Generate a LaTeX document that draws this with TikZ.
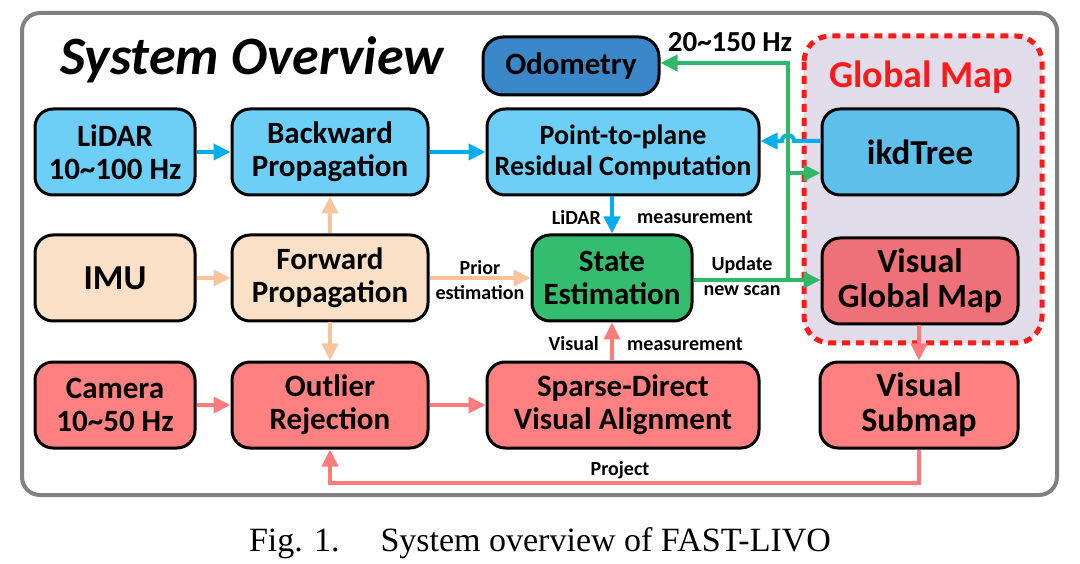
\documentclass[tikz,border=0pt]{standalone}
\usepackage{fontspec}
\setmainfont{Carlito}
\newfontfamily\capfont{Liberation Serif}
\usetikzlibrary{arrows.meta}
\definecolor{lblue}{HTML}{6DCFF6}
\definecolor{ikdblue}{HTML}{5DBFEA}
\definecolor{odoblue}{HTML}{3A88C9}
\definecolor{peach}{HTML}{FBE0C8}
\definecolor{sgreen}{HTML}{35BD6F}
\definecolor{pink}{HTML}{FF8080}
\definecolor{vgmred}{HTML}{EE7078}
\definecolor{lav}{HTML}{E1DCEA}
\definecolor{ablue}{HTML}{00AEEF}
\definecolor{apeach}{HTML}{F8C49C}
\definecolor{agreen}{HTML}{2EB868}
\definecolor{ared}{HTML}{FF7C7C}
\definecolor{framegray}{HTML}{808080}
\definecolor{gmred}{HTML}{FF1A1A}
\tikzset{
  box/.style={draw=black, line width=3pt, rounded corners=18pt, minimum height=86pt,
    align=center, inner sep=0pt, font=\fontsize{31}{33}\selectfont\bfseries},
  arr/.style={line width=4pt, -{Triangle[length=17pt,width=16pt]}},
  barr/.style={arr, draw=ablue},
  parr/.style={arr, draw=apeach},
  garr/.style={arr, draw=agreen},
  rarr/.style={arr, draw=ared},
  lbl/.style={font=\fontsize{20}{22}\selectfont\bfseries, inner sep=0pt},
}
\begin{document}
\begin{tikzpicture}[x=1pt,y=-1pt]
\useasboundingbox (0,0) rectangle (1080,564);
% frame
\draw[framegray, line width=4pt, rounded corners=18pt] (22,13) rectangle (1057,495);
% title
\node[font=\fontsize{54}{58}\selectfont\bfseries\itshape, anchor=base, inner sep=0pt] (title) at (252,75) {System Overview};
% global map region
\draw[gmred, fill=lav, line width=5pt, dash pattern=on 8pt off 6pt, rounded corners=26pt] (804,36) rectangle (1042,343);
\node[text=gmred, font=\fontsize{38}{42}\selectfont\bfseries, inner sep=0pt] (gmlabel) at (921,77) {Global Map};
% nodes
\node[box, fill=odoblue, minimum width=176pt, minimum height=58pt, rounded corners=20pt] (odo) at (571,66) {Odometry};
\node[box, fill=lblue, minimum width=160pt] (lidar) at (115,152) {LiDAR\\10\textasciitilde100 Hz};
\node[box, fill=lblue, minimum width=196pt] (bp) at (330,152) {Backward\\Propagation};
\node[box, fill=lblue, minimum width=272pt, font=\fontsize{28}{31}\selectfont\bfseries] (pp) at (623,152) {Point-to-plane\\Residual Computation};
\node[box, fill=ikdblue, minimum width=196pt, font=\fontsize{35}{38}\selectfont\bfseries] (ikd) at (920,152) {ikdTree};
\node[box, fill=peach, minimum width=160pt, font=\fontsize{35}{38}\selectfont\bfseries] (imu) at (115,278) {IMU};
\node[box, fill=peach, minimum width=196pt] (fp) at (330,278) {Forward\\Propagation};
\node[box, fill=sgreen, minimum width=160pt] (se) at (612,278) {State\\Estimation};
\node[box, fill=vgmred, minimum width=196pt, font=\fontsize{34}{35}\selectfont\bfseries] (vgm) at (920,281) {Visual\\Global Map};
\node[box, fill=pink, minimum width=160pt] (cam) at (115,405) {Camera\\10\textasciitilde50 Hz};
\node[box, fill=pink, minimum width=196pt] (orj) at (330,405) {Outlier\\Rejection};
\node[box, fill=pink, minimum width=272pt] (sd) at (623,405) {Sparse-Direct\\Visual Alignment};
\node[box, fill=pink, minimum width=198pt, font=\fontsize{34}{35}\selectfont\bfseries] (vs) at (919,405) {Visual\\Submap};
% coordinates
\coordinate (gj) at (788,280);
\coordinate (gk) at (788,173);
\coordinate (pb) at (330,483);
% blue arrows
\draw[barr] (lidar.east) -- (bp.west);
\draw[barr] (bp.east) -- (pp.west);
\draw[barr] (pp.south -| se.north) -- (se.north);
\draw[barr] (ikd.west |- 0,141) -- (794,141) arc[start angle=0, end angle=180, radius=6pt] -- (pp.east |- 0,141);
% peach arrows
\draw[parr] (imu.east) -- (fp.west);
\draw[parr] (fp.north) -- (bp.south);
\draw[parr] (fp.south) -- (orj.north);
\draw[parr] (fp.east) -- (se.west);
% green arrows
\draw[garr] (se.east |- gj) -- (vgm.west |- gj);
\draw[garr, line cap=rect] (gj) -- (788,63) -- (odo.east |- 0,63);
\draw[garr] (gk) -- (ikd.west |- gk);
% red arrows
\draw[rarr] (cam.east) -- (orj.west);
\draw[rarr] (orj.east) -- (sd.west);
\draw[rarr] (sd.north -| se.south) -- (se.south);
\draw[rarr] (vgm.south -| vs.north) -- (vs.north);
\draw[rarr] (vs.south) |- (pb) -- (orj.south);
% labels
\node[lbl] (l20) at (730,42) {\fontsize{29}{31}\selectfont 20\textasciitilde150 Hz};
\node[lbl] (lprior) at (480,268) {Prior};
\node[lbl] (lest) at (480,293) {estimation};
\node[lbl, anchor=east] (llid) at (601,217) {LiDAR};
\node[lbl, anchor=west] (lmeas1) at (637,217) {measurement};
\node[lbl, anchor=east] (lvis) at (599,344) {Visual};
\node[lbl, anchor=west] (lmeas2) at (627,344) {measurement};
\node[lbl] (lupd) at (742,265) {Update};
\node[lbl] (lnew) at (742,291) {new scan};
\node[lbl] (lproj) at (620,470) {Project};
% caption
\node[font=\capfont\fontsize{34}{37}\selectfont, inner sep=0pt] (cap) at (540,543) {Fig. 1.\hspace{1.2em}System overview of FAST-LIVO};
\end{tikzpicture}
\end{document}
